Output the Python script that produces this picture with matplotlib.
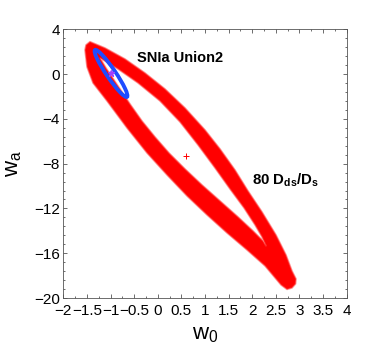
import matplotlib
matplotlib.use("Agg")
import matplotlib.pyplot as plt
from matplotlib.path import Path
from matplotlib.patches import PathPatch, Circle
from matplotlib.transforms import Affine2D
from matplotlib.ticker import FixedLocator, MultipleLocator, FixedFormatter

plt.rcParams['font.family'] = ['Liberation Sans', 'DejaVu Sans']
plt.rcParams['mathtext.fontset'] = 'custom'
plt.rcParams['mathtext.rm'] = 'Liberation Sans'
plt.rcParams['mathtext.it'] = 'Liberation Sans'
plt.rcParams['mathtext.bf'] = 'Liberation Sans:bold'

# ---- data: 80 D_ds/D_s confidence band (outer boundary, inner hole) ----
outer_w0 = [-1.435, -1.117, -0.694, -0.270, 0.153, 0.577, 1.000, 1.318, 1.635,
            1.911, 2.207, 2.503, 2.715, 2.842, 2.927, 2.917, 2.842, 2.736, 2.609,
            2.271, 1.889, 1.466, 1.043, 0.619, 0.196, -0.228,
            -0.651, -1.075, -1.371, -1.498, -1.541, -1.519]
outer_wa = [2.893, 2.330, 1.348, 0.098, -1.330, -3.027, -4.991, -6.688, -8.563,
            -10.438, -12.313, -14.366, -16.152, -17.580, -18.295, -18.741, -19.098, -19.232, -18.830,
            -17.134, -15.705, -14.188, -12.580, -10.884, -9.009, -7.045,
            -4.813, -2.402, -0.795, 0.634, 2.152, 2.598]

inner_w0 = [-1.223, -0.842, -0.418, 0.047, 0.471, 0.852, 1.212, 1.529, 1.826, 2.059,
            2.207, 2.292, 2.228, 2.017, 1.699, 1.318, 0.937, 0.577, 0.238, -0.058,
            -0.334, -0.588, -0.842, -1.096]
inner_wa = [1.437, 0.455, -0.795, -2.402, -4.277, -6.330, -8.384, -10.259, -11.955, -13.473,
            -14.545, -15.348, -14.902, -14.009, -12.759, -11.330, -9.902, -8.473, -7.045, -5.616,
            -4.188, -2.670, -1.063, 0.545]

# ---- data: SNIa Union2 contour (ellipse centre and conjugate semi-axes) ----
sn_center = (-0.990, 0.054)
sn_axis_major = (0.3382, -2.0946)
sn_axis_minor = (-0.0787, -0.226)

# best-fit / fiducial points
fid_point = (-1.0, 0.1)
lens_best = (0.60, -7.35)

xticks = [-2, -1.5, -1, -0.5, 0, 0.5, 1, 1.5, 2, 2.5, 3, 3.5, 4]
xticklabels = ['\u22122', '\u22121.5', '\u22121', '\u22120.5', '0', '0.5', '1', '1.5',
               '2', '2.5', '3', '3.5', '4']
yticks = [-20, -16, -12, -8, -4, 0, 4]
yticklabels = ['\u221220', '\u221216', '\u221212', '\u22128', '\u22124', '0', '4']

fig = plt.figure(figsize=(3.82, 3.52), dpi=100)
ax = fig.add_axes([0.1657, 0.1534, 0.7419, 0.7634])

# red band as path with a hole
verts = list(zip(outer_w0, outer_wa)) + [(outer_w0[0], outer_wa[0])]
codes = [Path.MOVETO] + [Path.LINETO] * (len(outer_w0) - 1) + [Path.CLOSEPOLY]
inner = list(zip(inner_w0, inner_wa))[::-1]
verts += inner + [inner[0]]
codes += [Path.MOVETO] + [Path.LINETO] * (len(inner) - 1) + [Path.CLOSEPOLY]
band = PathPatch(Path(verts, codes), facecolor='#ff0000', edgecolor=(1, 0.25, 0.25, 0.55),
                 linewidth=1.2, joinstyle='round', zorder=2)
ax.add_patch(band)

# blue ellipse
tr = Affine2D([[sn_axis_major[0], sn_axis_minor[0], sn_center[0]],
               [sn_axis_major[1], sn_axis_minor[1], sn_center[1]],
               [0, 0, 1]]) + ax.transData
ell = Circle((0, 0), 1, facecolor='none', edgecolor='#1f4cff', linewidth=2.8,
             transform=tr, zorder=3)
ax.add_patch(ell)

ax.plot([fid_point[0]], [fid_point[1]], marker='*', color='#a040ff', markersize=5,
        linestyle='none', zorder=4)
ax.plot([lens_best[0]], [lens_best[1]], marker='+', color='#ff0000', markersize=5,
        markeredgewidth=0.7, linestyle='none', zorder=4)

ax.text(-0.45, 1.42, 'SNIa Union2', fontsize=10.5, fontweight='bold', va='center', ha='left')
ax.text(1.99, -9.45, r'$\mathbf{80\ D_{ds}/D_{s}}$', fontsize=10.8, va='center', ha='left')

ax.set_xlim(-2, 4)
ax.set_ylim(-20, 4)
ax.xaxis.set_major_locator(FixedLocator(xticks))
ax.xaxis.set_major_formatter(FixedFormatter(xticklabels))
ax.yaxis.set_major_locator(FixedLocator(yticks))
ax.yaxis.set_major_formatter(FixedFormatter(yticklabels))
ax.xaxis.set_minor_locator(MultipleLocator(0.25))
ax.yaxis.set_minor_locator(MultipleLocator(0.8))
ax.tick_params(which='both', direction='in', top=True, right=True, color='#555555',
               width=0.6, labelsize=11)
ax.tick_params(axis='x', which='major', pad=4.5)
ax.tick_params(axis='y', which='major', pad=2.5)
ax.tick_params(which='major', length=3.2)
ax.tick_params(which='minor', length=1.7)
for s in ax.spines.values():
    s.set_linewidth(0.6)
    s.set_color('#555555')

ax.set_xlabel(r'$\mathregular{w_0}$', fontsize=16, labelpad=4)
ax.set_ylabel(r'$\mathregular{w_a}$', fontsize=16, labelpad=7)

fig.savefig('out.png', dpi=100)
